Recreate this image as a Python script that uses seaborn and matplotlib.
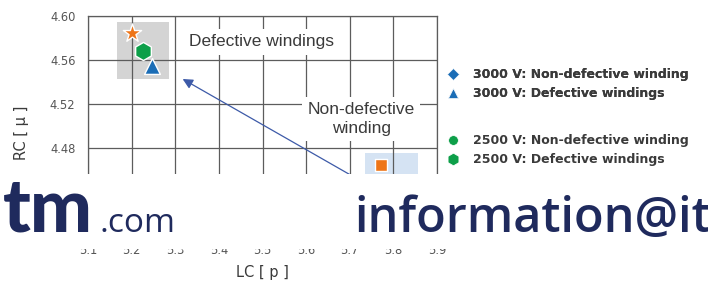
import matplotlib
matplotlib.use("Agg")
import matplotlib.pyplot as plt
from matplotlib.lines import Line2D
from matplotlib.patches import Rectangle
import pandas as pd
import seaborn as sns

# values (the lower part is hidden behind the banner)
point_names = ["star", "3000 V: Defective windings", "2500 V: Defective windings", "square"]
lc_values = [5.200, 5.246, 5.226, 5.772]
rc_values = [4.5845, 4.5545, 4.5685, 4.4645]

x_ticks = [5.1, 5.2, 5.3, 5.4, 5.5, 5.6, 5.7, 5.8, 5.9]
y_ticks = [4.40, 4.44, 4.48, 4.52, 4.56, 4.60]

legend_3000 = ["3000 V: Non-defective winding", "3000 V: Defective windings"]
legend_2500 = ["2500 V: Non-defective winding", "2500 V: Defective windings"]

# styles
BLUE = "#1b6db6"
GREEN = "#0d9f49"
ORANGE = "#ee7518"
GRID = "#5c5c5c"
TEXT = "#3a3a3a"
NAVY = "#1f2a5d"
point_style = {
    "star": dict(marker="*", color=ORANGE, s=190),
    "3000 V: Defective windings": dict(marker="^", color=BLUE, s=130),
    "2500 V: Defective windings": dict(marker="h", color=GREEN, s=170),
    "square": dict(marker="s", color=ORANGE, s=75),
}

sns.set_style("white")
plt.rcParams["font.family"] = ["DejaVu Sans"]
NARROW = ["Liberation Sans Narrow", "Liberation Sans"]

df = pd.DataFrame({"name": point_names, "LC": lc_values, "RC": rc_values})

fig = plt.figure(figsize=(7.08, 2.83), dpi=100)
ax = fig.add_axes([88 / 708, 1 - 236 / 283, 349 / 708, 220 / 283])

for _, row in df.iterrows():
    st = point_style[row["name"]]
    sns.scatterplot(x=[row["LC"]], y=[row["RC"]], ax=ax, marker=st["marker"],
                    color=st["color"], s=st["s"], edgecolor="white", linewidth=1.0,
                    zorder=5, legend=False)

ax.set_xlim(5.1, 5.9)
ax.set_ylim(4.40, 4.60)
ax.set_xticks(x_ticks)
ax.set_yticks(y_ticks)
ax.set_xticklabels([f"{v:.1f}" for v in x_ticks])
ax.set_yticklabels([f"{v:.2f}" for v in y_ticks])
ax.grid(True, color=GRID, linewidth=0.9, zorder=1)
ax.set_axisbelow("line")
for sp in ax.spines.values():
    sp.set_color(GRID)
    sp.set_linewidth(0.9)
ax.tick_params(axis="both", direction="out", length=3, width=0.9, color=GRID,
               labelcolor="#555555", labelsize=8.3)
ax.tick_params(axis="y", pad=6)
ax.tick_params(axis="x", pad=2.5)

ax.set_xlabel("LC [ p ]", fontsize=10.5, color=TEXT)
ax.set_ylabel("RC [ μ ]", fontsize=10.5, color=TEXT)
ax.xaxis.set_label_coords(0.5, -0.13)
ax.yaxis.set_label_coords(-0.17, 0.47)

# shaded groups
ax.add_patch(Rectangle((5.167, 4.5427), 0.119, 0.0518, facecolor="#d4d4d4",
                       edgecolor="none", zorder=0.5))
ax.add_patch(Rectangle((5.735, 4.42), 0.121, 0.0557, facecolor="#d5e3f3",
                       edgecolor="none", zorder=0.5))

ax.text(5.498, 4.5764, "Defective windings", ha="center", va="center",
        fontsize=12.5, color=TEXT, zorder=3, family=NARROW,
        bbox=dict(boxstyle="square,pad=0.3", facecolor="white", edgecolor="none"))
ax.text(5.726, 4.5064, "Non-defective\nwinding", ha="center", va="center",
        fontsize=12.5, color=TEXT, zorder=3, linespacing=1.3, family=NARROW,
        bbox=dict(boxstyle="square,pad=0.3", facecolor="white", edgecolor="none"))

ax.annotate("", xy=(5.317, 4.5427), xytext=(5.77, 4.44),
            arrowprops=dict(arrowstyle="-|>", color="#3d5aa8", lw=0.9,
                            mutation_scale=15, shrinkA=0, shrinkB=0), zorder=4)

# legends
def handle(marker, color, size):
    return Line2D([], [], linestyle="none", marker=marker, color=color,
                  markersize=size, markeredgecolor="white", markeredgewidth=0.5)

h3000 = [handle("D", BLUE, 6), handle("^", BLUE, 7.5)]
h2500 = [handle("o", GREEN, 7), handle("h", GREEN, 9)]
leg_kw = dict(frameon=False, prop={"weight": "bold", "size": 9.0, "family": "DejaVu Sans"},
              labelcolor=TEXT, handletextpad=1.0, labelspacing=0.5,
              borderaxespad=0, handlelength=1.2, loc="upper left")
leg1 = fig.legend(h3000, legend_3000, bbox_to_anchor=(440 / 708, 1 - 63 / 283), **leg_kw)
fig.add_artist(leg1)
fig.legend(h2500, legend_2500, bbox_to_anchor=(440 / 708, 1 - 129 / 283), **leg_kw)

# banner over the lower part
fig.add_artist(Rectangle((0, 1 - 249 / 283), 1, 75 / 283, transform=fig.transFigure,
                         facecolor="white", edgecolor="none", zorder=10))
fig.text(93 / 708, 1 - 232 / 283, "tm", ha="right", va="baseline", fontsize=53,
         color=NAVY, family="Lato", weight="black", zorder=11)
fig.text(100 / 708, 1 - 232 / 283, ".com", ha="left", va="baseline", fontsize=24,
         color=NAVY, family="Open Sans", zorder=11)
fig.text(354 / 708, 1 - 232 / 283, "information@it", ha="left", va="baseline",
         fontsize=35, color=NAVY, family="Open Sans", weight="semibold", zorder=11)

fig.savefig("out.png", dpi=100)
